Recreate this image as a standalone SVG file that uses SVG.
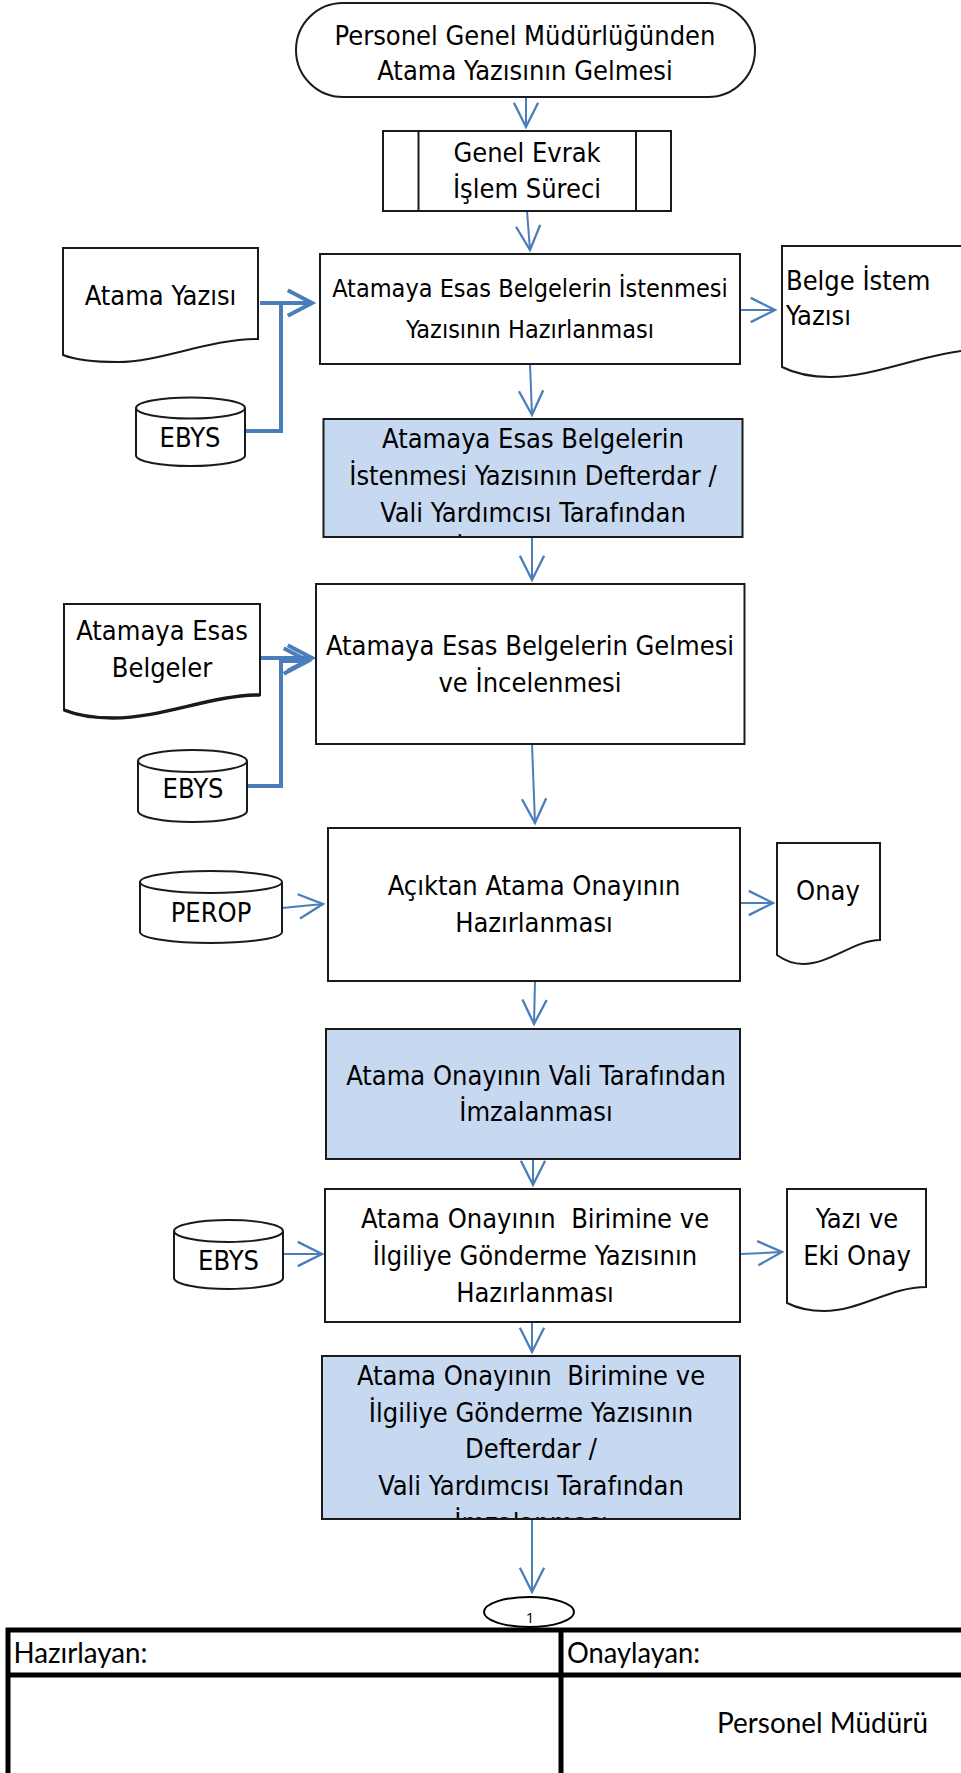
<svg xmlns="http://www.w3.org/2000/svg" width="961" height="1773" viewBox="0 0 961 1773">
<style>
.t{font-family:"DejaVu Sans Condensed","DejaVu Sans",sans-serif;font-stretch:condensed;font-size:27px;fill:#000;text-anchor:middle}
.s{font-size:25px}
.l{text-anchor:start}
.box{fill:#fff;stroke:#1a1a1a;stroke-width:2}
.blue{fill:#c6d9f1;stroke:#1a1a1a;stroke-width:2}
.c{fill:none;stroke:#4a7ebb;stroke-width:2}
.ck{fill:none;stroke:#4a7ebb;stroke-width:4}
.tb{fill:none;stroke:#000;stroke-width:5}
.g{font-family:Lato,"Open Sans",sans-serif;font-size:28px;fill:#000}
</style>
<defs>
<marker id="a" markerUnits="userSpaceOnUse" markerWidth="30" markerHeight="30" refX="0" refY="0" viewBox="-24 -13 26 26" orient="auto" overflow="visible">
<path d="M-21,-10.5 L0,0 L-21,10.5" fill="none" stroke="#4a7ebb" stroke-width="2"/>
</marker>
<marker id="ak" markerUnits="userSpaceOnUse" markerWidth="30" markerHeight="30" refX="0" refY="0" viewBox="-24 -13 26 26" orient="auto" overflow="visible">
<path d="M-21,-11 L0,0 L-21,11" fill="none" stroke="#4a7ebb" stroke-width="3.5"/>
</marker>
<clipPath id="clip2"><rect x="324.5" y="420" width="417" height="116"/></clipPath>
<clipPath id="clip7"><rect x="323" y="1357" width="416" height="161"/></clipPath>
</defs>

<g id="connectors">
<line class="c" x1="526" y1="97" x2="526" y2="127" marker-end="url(#a)"/>
<line class="c" x1="527" y1="211" x2="530" y2="250" marker-end="url(#a)"/>
<line class="c" x1="530" y1="364" x2="532" y2="415" marker-end="url(#a)"/>
<line class="c" x1="532" y1="537" x2="532" y2="580" marker-end="url(#a)"/>
<line class="c" x1="532" y1="744" x2="535" y2="823" marker-end="url(#a)"/>
<line class="c" x1="535" y1="981" x2="534" y2="1024" marker-end="url(#a)"/>
<line class="c" x1="533" y1="1159" x2="533" y2="1185" marker-end="url(#a)"/>
<line class="c" x1="532" y1="1322" x2="532" y2="1352" marker-end="url(#a)"/>
<line class="c" x1="532" y1="1519" x2="532" y2="1592" marker-end="url(#a)"/>
<line class="ck" x1="260" y1="303" x2="312" y2="303" marker-end="url(#ak)"/>
<polyline class="ck" points="245,431 281,431 281,303"/>
<line class="ck" x1="260" y1="658" x2="312" y2="658" marker-end="url(#ak)"/>
<polyline class="ck" points="247,786 281,786 281,661 308,661" marker-end="url(#ak)"/>
<line class="c" x1="282" y1="908" x2="323" y2="904" marker-end="url(#a)"/>
<line class="c" x1="741" y1="310" x2="775" y2="310" marker-end="url(#a)"/>
<line class="c" x1="741" y1="903" x2="773" y2="903" marker-end="url(#a)"/>
<line class="c" x1="283" y1="1254" x2="322" y2="1254" marker-end="url(#a)"/>
<line class="c" x1="741" y1="1254" x2="782" y2="1252" marker-end="url(#a)"/>
</g>

<g id="start">
<rect class="box" x="296" y="3" width="459" height="94" rx="47" ry="47"/>
<text class="t" x="525" y="45">Personel Genel Müdürlüğünden</text>
<text class="t" x="525" y="80">Atama Yazısının Gelmesi</text>
</g>

<g id="genel-evrak">
<rect class="box" x="383" y="131" width="288" height="80"/>
<line stroke="#1a1a1a" stroke-width="2" x1="418.5" y1="131" x2="418.5" y2="211"/>
<line stroke="#1a1a1a" stroke-width="2" x1="636" y1="131" x2="636" y2="211"/>
<text class="t" x="527" y="162">Genel Evrak</text>
<text class="t" x="527" y="198">İşlem Süreci</text>
</g>

<g id="atama-yazisi">
<path class="box" d="M63,248 H258 V339 C209,339 160,362 118,362 C92,362 73,359 63,355 Z"/>
<text class="t" x="160.5" y="305">Atama Yazısı</text>
</g>

<g id="ebys1">
<path class="box" d="M136,408 A54.5,10.5 0 0 1 245,408 V455.5 A54.5,10.5 0 0 1 136,455.5 Z M136,408 A54.5,10.5 0 0 0 245,408"/>
<text class="t" x="190" y="447">EBYS</text>
</g>

<g id="box1">
<rect class="box" x="320" y="254" width="420" height="110"/>
<text class="t s" x="530" y="297">Atamaya Esas Belgelerin İstenmesi</text>
<text class="t s" x="530" y="338">Yazısının Hazırlanması</text>
</g>

<g id="belge-istem">
<path class="box" d="M782,246 H990 V349 C930,349 880,377 830,377 C808,377 792,372 782,367 Z"/>
<text class="t l" x="786" y="290">Belge İstem</text>
<text class="t l" x="786" y="325">Yazısı</text>
</g>

<g id="box2">
<rect class="blue" x="323.5" y="419" width="419" height="118"/>
<g clip-path="url(#clip2)">
<text class="t" x="533" y="448">Atamaya Esas Belgelerin</text>
<text class="t" x="533" y="485">İstenmesi Yazısının Defterdar /</text>
<text class="t" x="533" y="522">Vali Yardımcısı Tarafından</text>
<text class="t" x="533" y="559">İmzalanması</text>
</g>
</g>

<g id="esas-belgeler">
<path class="box" d="M64,604 H260 V695 C211,695 163,718 113,718 C90,718 74,714 64,710 Z"/>
<path fill="none" stroke="#1a1a1a" stroke-width="3.5" d="M260,695 C211,695 163,718 113,718 C90,718 74,714 64,710"/>
<text class="t" x="162" y="640">Atamaya Esas</text>
<text class="t" x="162" y="677">Belgeler</text>
</g>

<g id="ebys2">
<path class="box" d="M138,761 A54.5,11 0 0 1 247,761 V811 A54.5,11 0 0 1 138,811 Z M138,761 A54.5,11 0 0 0 247,761"/>
<text class="t" x="193" y="798">EBYS</text>
</g>

<g id="box3">
<rect class="box" x="316" y="584" width="428.5" height="160"/>
<text class="t" x="530" y="655">Atamaya Esas Belgelerin Gelmesi</text>
<text class="t" x="530" y="692">ve İncelenmesi</text>
</g>

<g id="perop">
<path class="box" d="M140,882 A71,11 0 0 1 282,882 V932 A71,11 0 0 1 140,932 Z M140,882 A71,11 0 0 0 282,882"/>
<text class="t" x="211" y="922">PEROP</text>
</g>

<g id="box4">
<rect class="box" x="328" y="828" width="412" height="153"/>
<text class="t" x="534" y="895">Açıktan Atama Onayının</text>
<text class="t" x="534" y="932">Hazırlanması</text>
</g>

<g id="onay">
<path class="box" d="M777,843 H880 V940 C855,940 830,964 803,964 C792,964 784,960 777,955 Z"/>
<text class="t" x="828" y="900">Onay</text>
</g>

<g id="box5">
<rect class="blue" x="326" y="1029" width="414" height="130"/>
<text class="t" x="536" y="1085">Atama Onayının Vali Tarafından</text>
<text class="t" x="536" y="1121">İmzalanması</text>
</g>

<g id="ebys3">
<path class="box" d="M174,1231 A54.5,11 0 0 1 283,1231 V1278 A54.5,11 0 0 1 174,1278 Z M174,1231 A54.5,11 0 0 0 283,1231"/>
<text class="t" x="228.5" y="1270">EBYS</text>
</g>

<g id="box6">
<rect class="box" x="325" y="1189" width="415" height="133"/>
<text class="t" x="535" y="1228" xml:space="preserve">Atama Onayının  Birimine ve</text>
<text class="t" x="535" y="1265">İlgiliye Gönderme Yazısının</text>
<text class="t" x="535" y="1302">Hazırlanması</text>
</g>

<g id="yazi-eki-onay">
<path class="box" d="M787,1189 H926 V1287 C890,1287 860,1311 824,1311 C808,1311 795,1307 787,1303 Z"/>
<text class="t" x="857" y="1228">Yazı ve</text>
<text class="t" x="857" y="1265">Eki Onay</text>
</g>

<g id="box7">
<rect class="blue" x="322" y="1356" width="418" height="163"/>
<g clip-path="url(#clip7)">
<text class="t" x="531" y="1385" xml:space="preserve">Atama Onayının  Birimine ve</text>
<text class="t" x="531" y="1422">İlgiliye Gönderme Yazısının</text>
<text class="t" x="531" y="1458">Defterdar /</text>
<text class="t" x="531" y="1495">Vali Yardımcısı Tarafından</text>
<text class="t" x="531" y="1532">İmzalanması</text>
</g>
</g>

<g id="connector-1">
<ellipse cx="529" cy="1612" rx="45" ry="15" fill="#fff" stroke="#000" stroke-width="2"/>
<text x="530" y="1623" font-family="'Open Sans',sans-serif" font-size="15" text-anchor="middle">1</text>
</g>

<g id="table">
<path class="tb" d="M8,1773 V1630 H970 M561,1630 V1773 M8,1675 H970"/>
<text class="g" x="13.5" y="1663" textLength="134" lengthAdjust="spacingAndGlyphs">Hazırlayan:</text>
<text class="g" x="567" y="1663" textLength="133" lengthAdjust="spacingAndGlyphs">Onaylayan:</text>
<text class="g" x="717" y="1733" textLength="211" lengthAdjust="spacingAndGlyphs">Personel Müdürü</text>
</g>
</svg>
